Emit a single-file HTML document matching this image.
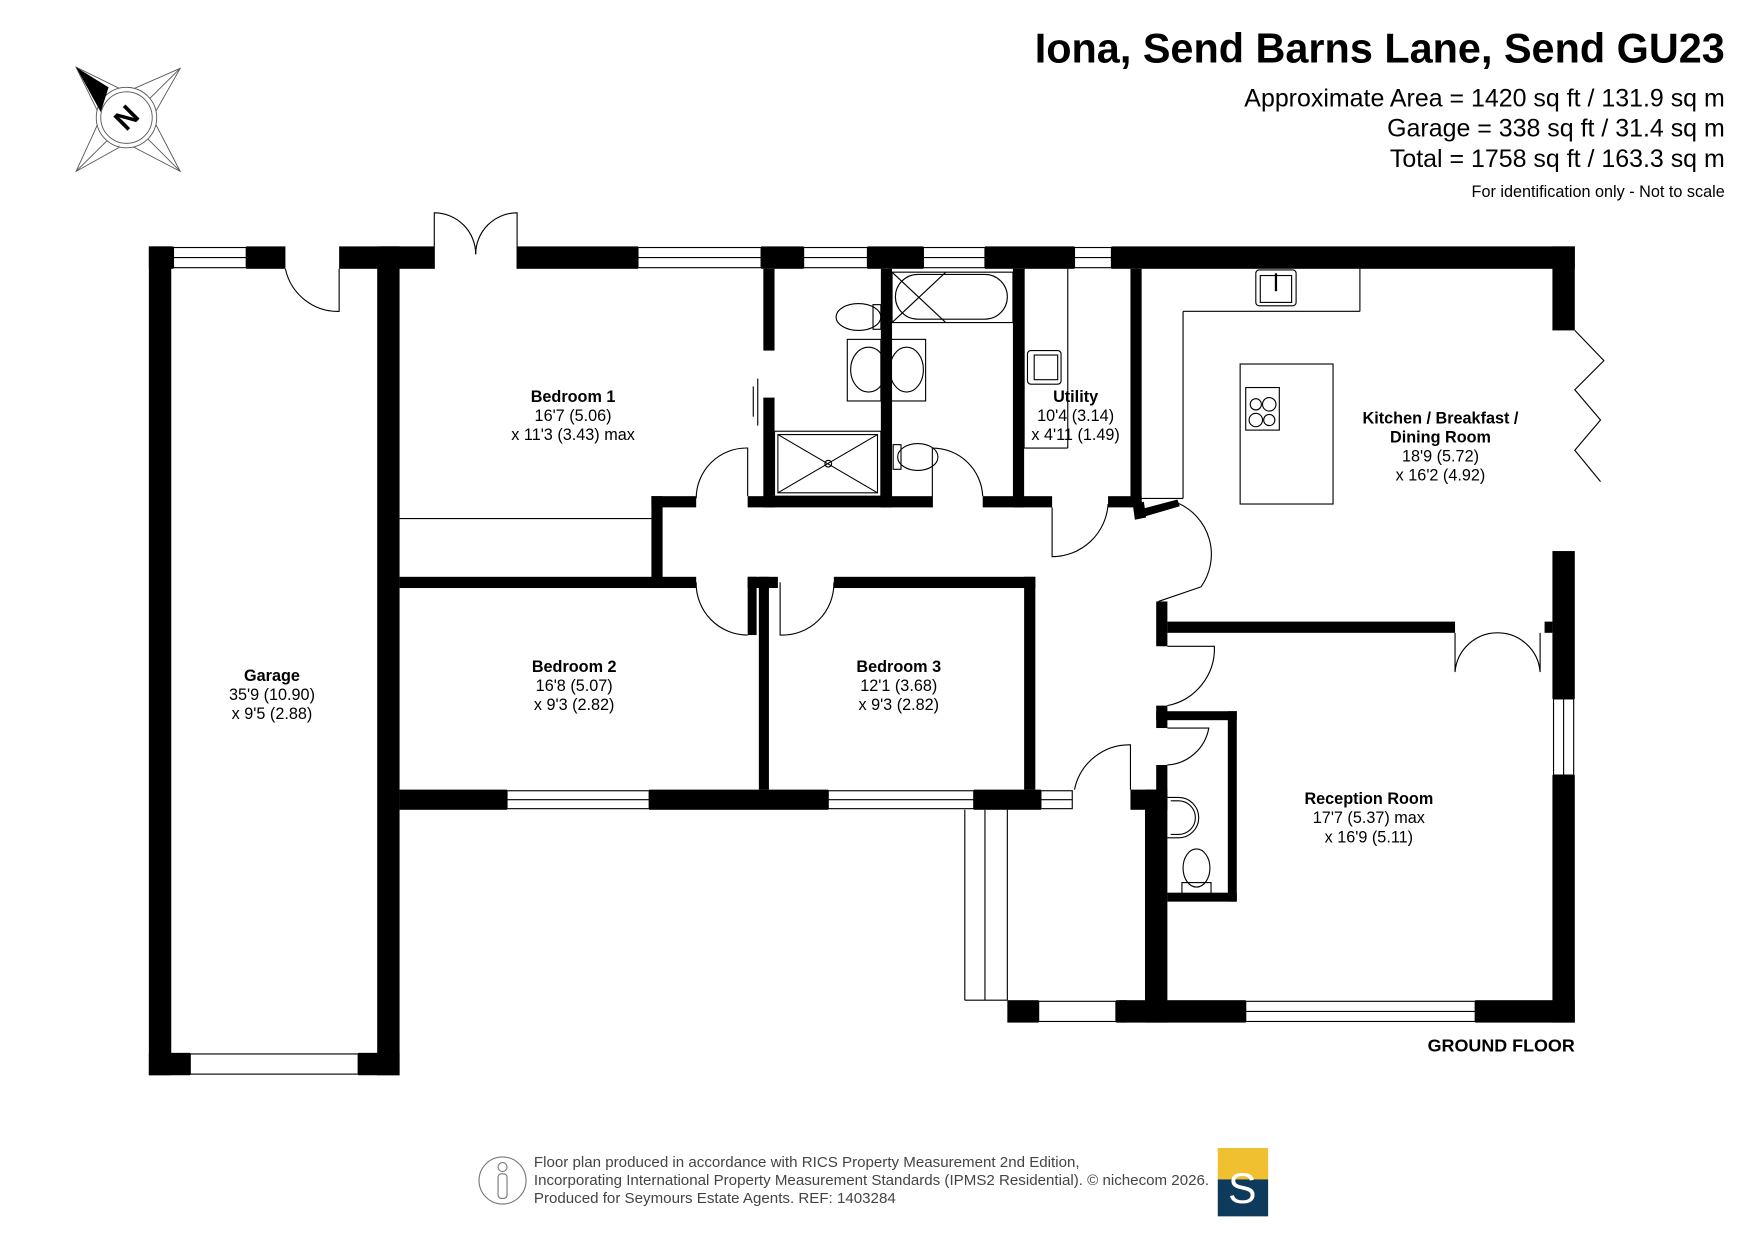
<!DOCTYPE html>
<html><head><meta charset="utf-8"><style>
html,body{margin:0;padding:0;background:#fff;}
svg{display:block;}
text{font-family:"Liberation Sans",Arial,sans-serif;}
</style></head><body>
<svg width="1755" height="1241" viewBox="0 0 1568 1108" preserveAspectRatio="none" xmlns="http://www.w3.org/2000/svg">
<rect width="1568" height="1108" fill="#fff"/>
<text x="1541" y="56" text-anchor="end" font-size="37" font-weight="bold">Iona, Send Barns Lane, Send GU23</text>
<text x="1541" y="95" text-anchor="end" font-size="22.3">Approximate Area = 1420 sq ft / 131.9 sq m</text>
<text x="1541" y="122" text-anchor="end" font-size="22.3">Garage = 338 sq ft / 31.4 sq m</text>
<text x="1541" y="149" text-anchor="end" font-size="22.3">Total = 1758 sq ft / 163.3 sq m</text>
<text x="1541" y="176" text-anchor="end" font-size="14.5">For identification only - Not to scale</text>
<g stroke="#555" stroke-width="0.8" fill="none">
<polygon points="68,60 113,82 161,61 136,105 161,153 113,128 68,153 90,105"/>
<line x1="68" y1="60" x2="161" y2="153"/><line x1="161" y1="61" x2="68" y2="153"/>
<circle cx="113" cy="105" r="27" fill="#fff"/><circle cx="113" cy="105" r="23"/>
</g>
<polygon points="68,60 97,78 90,100" fill="#000"/>
<text x="113" y="114" text-anchor="middle" font-size="26" font-weight="bold" transform="rotate(-45 113 105)">N</text>
<g fill="#000">
<rect x="133" y="220" width="20" height="740"/>
<rect x="337" y="220" width="20" height="740"/>
<rect x="133" y="220" width="22" height="20"/><rect x="220" y="220" width="35" height="20"/><rect x="303" y="220" width="54" height="20"/>
<rect x="133" y="940" width="37" height="20"/><rect x="320" y="940" width="37" height="20"/>
<rect x="340" y="220" width="48" height="20"/>
<rect x="462" y="220" width="108" height="20"/>
<rect x="680" y="220" width="38" height="20"/>
<rect x="775" y="220" width="50" height="20"/>
<rect x="880" y="220" width="80" height="20"/>
<rect x="993" y="220" width="414" height="20"/>
<rect x="1387" y="220" width="20" height="75"/>
<rect x="1387" y="492" width="20" height="132"/>
<rect x="1387" y="692" width="20" height="221"/>
<rect x="1000" y="893" width="113" height="20"/>
<rect x="1318" y="893" width="89" height="20"/>
<rect x="900" y="893" width="28" height="20"/>
<rect x="997" y="893" width="10" height="20"/>
<rect x="357" y="705" width="96" height="18"/>
<rect x="580" y="705" width="160" height="18"/>
<rect x="870" y="705" width="60" height="18"/>
<rect x="1010" y="705" width="30" height="18"/>
<rect x="1023" y="705" width="20" height="208"/>
<rect x="682" y="240" width="10" height="73"/>
<rect x="682" y="355" width="10" height="98"/>
<rect x="787" y="240" width="10" height="213"/>
<rect x="905" y="240" width="10" height="213"/>
<rect x="1010" y="240" width="10" height="210"/>
<rect x="668" y="443" width="165" height="10"/>
<rect x="878" y="443" width="62" height="10"/>
<rect x="990" y="443" width="30" height="10"/>
<polygon points="1012,450 1022,448 1024,462 1014,464"/>
<polygon points="1018,455 1052,446 1054,452 1020,462"/>
<rect x="582" y="443" width="40" height="10"/>
<rect x="582" y="443" width="10" height="82"/>
<rect x="357" y="515" width="265" height="10"/>
<rect x="668" y="515" width="27" height="10"/>
<rect x="745" y="515" width="180" height="10"/>
<rect x="668" y="515" width="8" height="52"/>
<rect x="678" y="515" width="9" height="190"/>
<rect x="915" y="515" width="10" height="190"/>
<rect x="1033" y="537" width="10" height="40"/>
<rect x="1043" y="555" width="257" height="10"/>
<rect x="1380" y="555" width="7" height="10"/>
<rect x="1033" y="630" width="10" height="20"/>
<rect x="1033" y="635" width="72" height="8"/>
<rect x="1097" y="635" width="8" height="170"/>
<rect x="1043" y="797" width="62" height="8"/>
<rect x="1033" y="683" width="10" height="40"/>
</g>
<g fill="#fff" stroke="#000" stroke-width="1">
<rect x="155" y="221" width="65" height="18"/><line x1="155" y1="230" x2="220" y2="230"/>
<rect x="570" y="221" width="110" height="18"/><line x1="570" y1="230" x2="680" y2="230"/>
<rect x="718" y="221" width="57" height="18"/><line x1="718" y1="230" x2="775" y2="230"/>
<rect x="825" y="221" width="55" height="18"/><line x1="825" y1="230" x2="880" y2="230"/>
<rect x="960" y="221" width="33" height="18"/><line x1="960" y1="230" x2="993" y2="230"/>
<rect x="170" y="941" width="150" height="18"/>
<rect x="453" y="706" width="127" height="16"/><line x1="453" y1="714" x2="580" y2="714"/>
<rect x="740" y="706" width="130" height="16"/><line x1="740" y1="714" x2="870" y2="714"/>
<rect x="930" y="706" width="28" height="16"/><line x1="930" y1="714" x2="958" y2="714"/>
<rect x="1388" y="624" width="18" height="68"/><line x1="1397" y1="624" x2="1397" y2="692"/>
<rect x="1113" y="894" width="205" height="18"/><line x1="1113" y1="903" x2="1318" y2="903"/>
<rect x="928" y="894" width="69" height="18"/>
</g>
<g fill="none" stroke="#000" stroke-width="1">
<line x1="862" y1="723" x2="862" y2="893"/><line x1="880" y1="723" x2="880" y2="893"/><line x1="900" y1="723" x2="900" y2="893"/>
<line x1="862" y1="893" x2="900" y2="893"/>
<line x1="357" y1="463" x2="582" y2="463"/>
<line x1="1020" y1="445" x2="1057" y2="445"/><line x1="1057" y1="445" x2="1057" y2="278"/><line x1="1057" y1="278" x2="1215" y2="278"/><line x1="1215" y1="278" x2="1215" y2="240"/>
<rect x="1108" y="325" width="83" height="125"/>
<rect x="1113" y="346" width="30" height="38"/>
<circle cx="1122" cy="361" r="5"/><circle cx="1134" cy="361" r="6"/><circle cx="1122" cy="375" r="6"/><circle cx="1134" cy="375" r="5"/>
<rect x="1122" y="241" width="36" height="32" rx="3"/><rect x="1126" y="246" width="28" height="24"/>
<line x1="1140" y1="244" x2="1140" y2="260" stroke-width="2"/>
<line x1="915" y1="240" x2="915" y2="400"/><line x1="954" y1="240" x2="954" y2="400"/><line x1="915" y1="400" x2="954" y2="400"/>
<rect x="918" y="313" width="30" height="30" rx="3"/><rect x="924" y="317" width="21" height="22"/>
<rect x="797" y="243" width="108" height="45"/><rect x="800" y="245" width="100" height="40" rx="20"/>
<line x1="797" y1="243" x2="845" y2="288"/><line x1="845" y1="243" x2="797" y2="288"/>
<rect x="692" y="385" width="95" height="58"/><rect x="695" y="388" width="89" height="52"/>
<line x1="695" y1="388" x2="784" y2="440"/><line x1="784" y1="388" x2="695" y2="440"/>
<circle cx="740" cy="414" r="3"/>
<rect x="757" y="303" width="70" height="55"/><line x1="787" y1="303" x2="787" y2="358"/>
<ellipse cx="776" cy="330" rx="16" ry="20"/><ellipse cx="810" cy="330" rx="15" ry="20"/>
<ellipse cx="767" cy="283" rx="20" ry="12"/><rect x="780" y="272" width="7" height="22"/>
<ellipse cx="820" cy="408" rx="18" ry="12"/><rect x="798" y="397" width="7" height="22"/>
<path d="M1043,712 h10 a18,18 0 0 1 0,36 h-10"/><path d="M1046,715 h7 a15,15 0 0 1 0,30 h-7"/>
<ellipse cx="1069" cy="775" rx="12" ry="17"/><rect x="1056" y="788" width="26" height="10"/>
<path d="M388,240 V190 A37,37 0 0 1 425,227"/><path d="M462,240 V190 A37,37 0 0 0 425,227"/>
<path d="M303,240 V278 A48,48 0 0 1 255,240"/>
<path d="M668,443 V400 A45,45 0 0 0 622,445"/>
<path d="M833,453 V400"/><path d="M833,400 A45,45 0 0 1 878,443"/>
<path d="M940,453 V497 A50,50 0 0 0 990,450"/>
<path d="M1052,449 A50,50 0 0 1 1073,524"/><path d="M1035,537 L1073,524"/>
<path d="M622,520 A46,46 0 0 0 668,567"/><path d="M745,520 A46,46 0 0 1 697,567 V520"/>
<path d="M1043,577 H1085 A52,52 0 0 1 1043,630"/>
<path d="M1043,650 H1080 A40,40 0 0 1 1043,683"/>
<path d="M960,705 A50,50 0 0 1 1010,665 V705"/>
<path d="M1300,565 V600 A38,38 0 0 1 1338,565"/><path d="M1376,565 V600 A38,38 0 0 0 1338,565"/>
<path d="M1407,295 L1433,322 L1407,348 L1430,375 L1407,402 L1430,430"/>
<line x1="677" y1="338" x2="677" y2="380"/><line x1="673" y1="345" x2="673" y2="372"/>
</g>
<g text-anchor="middle" font-size="14.5">
<text x="512" y="359" font-weight="bold">Bedroom 1</text><text x="512" y="376">16'7 (5.06)</text><text x="512" y="393">x 11'3 (3.43) max</text>
<text x="961" y="359" font-weight="bold">Utility</text><text x="961" y="376">10'4 (3.14)</text><text x="961" y="393">x 4'11 (1.49)</text>
<text x="1287" y="378" font-weight="bold">Kitchen / Breakfast /</text><text x="1287" y="395" font-weight="bold">Dining Room</text><text x="1287" y="412">18'9 (5.72)</text><text x="1287" y="429">x 16'2 (4.92)</text>
<text x="243" y="608" font-weight="bold">Garage</text><text x="243" y="625">35'9 (10.90)</text><text x="243" y="642">x 9'5 (2.88)</text>
<text x="513" y="600" font-weight="bold">Bedroom 2</text><text x="513" y="617">16'8 (5.07)</text><text x="513" y="634">x 9'3 (2.82)</text>
<text x="803" y="600" font-weight="bold">Bedroom 3</text><text x="803" y="617">12'1 (3.68)</text><text x="803" y="634">x 9'3 (2.82)</text>
<text x="1223" y="718" font-weight="bold">Reception Room</text><text x="1223" y="735">17'7 (5.37) max</text><text x="1223" y="752">x 16'9 (5.11)</text>
</g>
<text x="1407" y="939" text-anchor="end" font-size="16" font-weight="bold">GROUND FLOOR</text>
<circle cx="449" cy="1054" r="21" fill="none" stroke="#777" stroke-width="1"/>
<circle cx="449" cy="1042" r="4" fill="none" stroke="#777"/><rect x="445" y="1048" width="8" height="22" rx="3" fill="none" stroke="#777"/>
<g font-size="13.5" fill="#444">
<text x="477" y="1042">Floor plan produced in accordance with RICS Property Measurement 2nd Edition,</text>
<text x="477" y="1058">Incorporating International Property Measurement Standards (IPMS2 Residential).   © nichecom 2026.</text>
<text x="477" y="1074">Produced for Seymours Estate Agents.   REF: 1403284</text>
</g>
<rect x="1088" y="1025" width="45" height="28" fill="#f0c030"/>
<rect x="1088" y="1053" width="45" height="33" fill="#0e3a5c"/>
<text x="1110" y="1074" text-anchor="middle" font-size="38" fill="#fff" font-family="Liberation Serif,serif">S</text>
</svg>
</body></html>
